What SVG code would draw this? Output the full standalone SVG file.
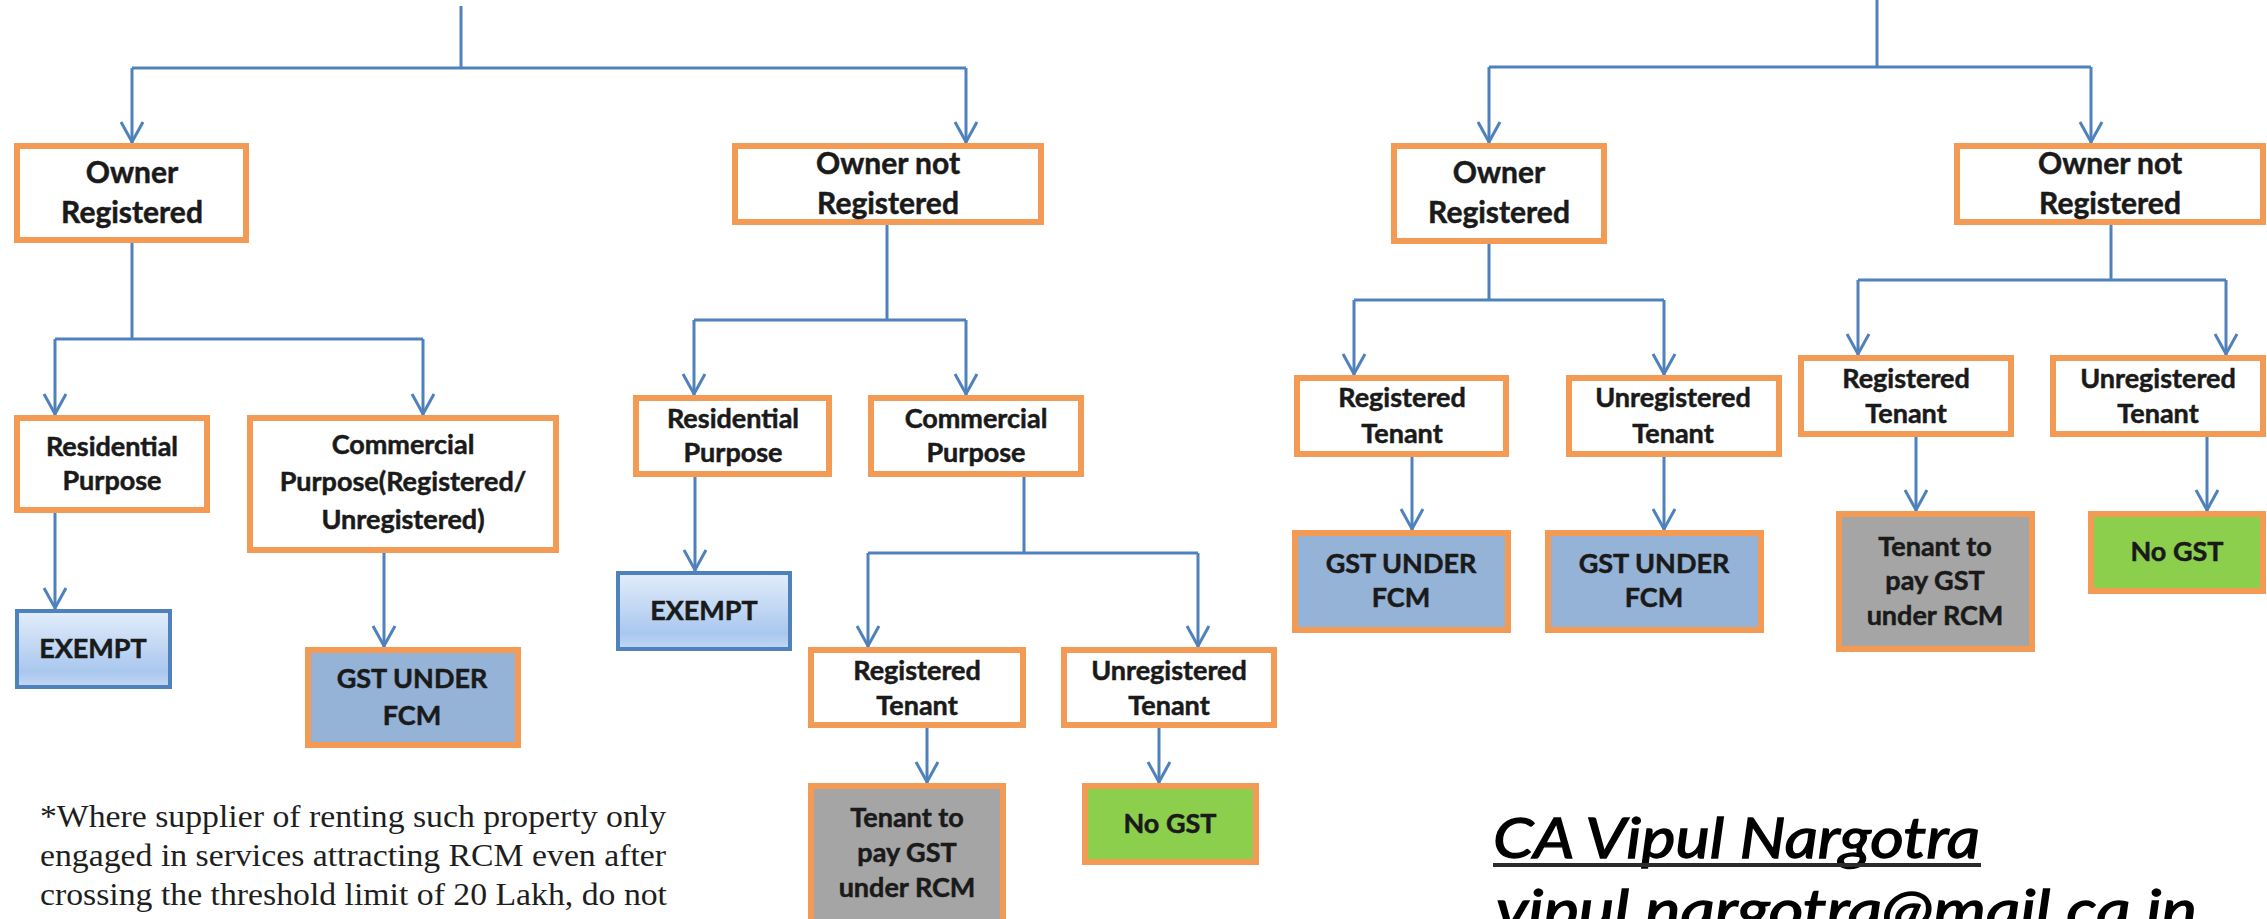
<svg xmlns="http://www.w3.org/2000/svg" width="2267" height="919" viewBox="0 0 2267 919">
<style>
.box{fill:#ffffff;stroke:#F39A55;stroke-width:6}
.fcm{fill:#95B3D7;stroke:#F39A55;stroke-width:6}
.rcm{fill:#A5A5A5;stroke:#F39A55;stroke-width:6}
.nogst{fill:#8CCF4D;stroke:#F39A55;stroke-width:6}
.ex{fill:url(#exg);stroke:#4F81BD;stroke-width:4}
.t{font-family:Lato,"Liberation Sans",sans-serif;font-weight:bold;fill:#1a1a1a;stroke:#1a1a1a;stroke-width:0.5;text-anchor:middle}
.big{font-size:30px}
.sm{font-size:27px}
.c{fill:none;stroke:#4F81BD;stroke-width:3}
.a{fill:none;stroke:#4F81BD;stroke-width:3;marker-end:url(#arr)}
.note{font-family:"Liberation Serif",serif;font-size:32px;fill:#1e1e1e}
.sig{font-family:Lato,"Liberation Sans",sans-serif;font-style:italic;font-size:57px;fill:#000;stroke:#000;stroke-width:1.3}
</style>
<defs>
<linearGradient id="exg" x1="0" y1="0" x2="0" y2="1">
<stop offset="0" stop-color="#e3edfb"/>
<stop offset="0.8" stop-color="#a9c7ee"/>
<stop offset="1" stop-color="#c3d8f3"/>
</linearGradient>
<marker id="arr" markerUnits="userSpaceOnUse" markerWidth="30" markerHeight="30" viewBox="-25 -15 30 30" refX="0" refY="0" orient="auto">
<path d="M-21,-11 L-1,0 L-21,11" fill="none" stroke="#4F81BD" stroke-width="3"/>
</marker>
</defs>
<rect width="2267" height="919" fill="#ffffff"/>

<g id="connectors">
<path class="c" d="M461,6 V68 M132,68 H966"/>
<path class="a" d="M132,68 V143"/>
<path class="a" d="M966,68 V143"/>
<path class="c" d="M132,243 V339 M55,339 H423"/>
<path class="a" d="M55,339 V415"/>
<path class="a" d="M423,339 V415"/>
<path class="a" d="M55,513 V609"/>
<path class="a" d="M384,553 V647"/>
<path class="c" d="M887,225 V320 M694,320 H966"/>
<path class="a" d="M694,320 V395"/>
<path class="a" d="M966,320 V395"/>
<path class="a" d="M695,475 V571"/>
<path class="c" d="M1024,475 V553 M868,553 H1198"/>
<path class="a" d="M868,553 V647"/>
<path class="a" d="M1198,553 V647"/>
<path class="a" d="M927,728 V783"/>
<path class="a" d="M1159,728 V783"/>
<path class="c" d="M1877,0 V67 M1489,67 H2091"/>
<path class="a" d="M1489,67 V143"/>
<path class="a" d="M2091,67 V143"/>
<path class="c" d="M1489,244 V300 M1354,300 H1664"/>
<path class="a" d="M1354,300 V375"/>
<path class="a" d="M1664,300 V375"/>
<path class="a" d="M1412,457 V530"/>
<path class="a" d="M1664,457 V530"/>
<path class="c" d="M2111,225 V280 M1858,280 H2226"/>
<path class="a" d="M1858,280 V355"/>
<path class="a" d="M2226,280 V355"/>
<path class="a" d="M1916,437 V511"/>
<path class="a" d="M2207,437 V511"/>
</g>

<g id="n1"><rect class="box" x="17" y="146" width="229" height="94"/>
<text class="t big" x="132" y="183">Owner</text><text class="t big" x="132" y="223">Registered</text></g>
<g id="n2"><rect class="box" x="735" y="146" width="306" height="76"/>
<text class="t big" x="888" y="174">Owner not</text><text class="t big" x="888" y="214">Registered</text></g>
<g id="n3"><rect class="box" x="17" y="418" width="190" height="92"/>
<text class="t sm" x="112" y="456">Residential</text><text class="t sm" x="112" y="490">Purpose</text></g>
<g id="n4"><rect class="box" x="250" y="418" width="306" height="132"/>
<text class="t sm" x="403" y="454">Commercial</text><text class="t sm" x="403" y="491">Purpose(Registered/</text><text class="t sm" x="403" y="529">Unregistered)</text></g>
<g id="n5"><rect class="ex" x="17" y="611" width="153" height="76"/>
<text class="t sm" x="93" y="658">EXEMPT</text></g>
<g id="n6"><rect class="fcm" x="308" y="650" width="210" height="95"/>
<text class="t sm" x="412" y="688">GST UNDER</text><text class="t sm" x="412" y="725">FCM</text></g>
<g id="n7"><rect class="box" x="636" y="398" width="193" height="76"/>
<text class="t sm" x="733" y="428">Residential</text><text class="t sm" x="733" y="462">Purpose</text></g>
<g id="n8"><rect class="box" x="871" y="398" width="210" height="76"/>
<text class="t sm" x="976" y="428">Commercial</text><text class="t sm" x="976" y="462">Purpose</text></g>
<g id="n9"><rect class="ex" x="618" y="573" width="172" height="76"/>
<text class="t sm" x="704" y="620">EXEMPT</text></g>
<g id="n10"><rect class="box" x="811" y="650" width="212" height="75"/>
<text class="t sm" x="917" y="680">Registered</text><text class="t sm" x="917" y="715">Tenant</text></g>
<g id="n11"><rect class="box" x="1064" y="650" width="210" height="75"/>
<text class="t sm" x="1169" y="680">Unregistered</text><text class="t sm" x="1169" y="715">Tenant</text></g>
<g id="n12"><rect class="rcm" x="811" y="786" width="192" height="140"/>
<text class="t sm" x="907" y="827">Tenant to</text><text class="t sm" x="907" y="862">pay GST</text><text class="t sm" x="907" y="897">under RCM</text></g>
<g id="n13"><rect class="nogst" x="1085" y="786" width="171" height="76"/>
<text class="t sm" x="1170" y="833">No GST</text></g>

<g id="n14"><rect class="box" x="1394" y="146" width="210" height="95"/>
<text class="t big" x="1499" y="183">Owner</text><text class="t big" x="1499" y="223">Registered</text></g>
<g id="n15"><rect class="box" x="1957" y="146" width="306" height="76"/>
<text class="t big" x="2110" y="174">Owner not</text><text class="t big" x="2110" y="214">Registered</text></g>
<g id="n16"><rect class="box" x="1297" y="378" width="209" height="76"/>
<text class="t sm" x="1402" y="407">Registered</text><text class="t sm" x="1402" y="443">Tenant</text></g>
<g id="n17"><rect class="box" x="1569" y="378" width="210" height="76"/>
<text class="t sm" x="1673" y="407">Unregistered</text><text class="t sm" x="1673" y="443">Tenant</text></g>
<g id="n18"><rect class="box" x="1801" y="358" width="210" height="76"/>
<text class="t sm" x="1906" y="388">Registered</text><text class="t sm" x="1906" y="423">Tenant</text></g>
<g id="n19"><rect class="box" x="2053" y="358" width="210" height="76"/>
<text class="t sm" x="2158" y="388">Unregistered</text><text class="t sm" x="2158" y="423">Tenant</text></g>
<g id="n20"><rect class="fcm" x="1295" y="533" width="213" height="97"/>
<text class="t sm" x="1401" y="573">GST UNDER</text><text class="t sm" x="1401" y="607">FCM</text></g>
<g id="n21"><rect class="fcm" x="1548" y="533" width="213" height="97"/>
<text class="t sm" x="1654" y="573">GST UNDER</text><text class="t sm" x="1654" y="607">FCM</text></g>
<g id="n22"><rect class="rcm" x="1839" y="514" width="193" height="135"/>
<text class="t sm" x="1935" y="556">Tenant to</text><text class="t sm" x="1935" y="590">pay GST</text><text class="t sm" x="1935" y="625">under RCM</text></g>
<g id="n23"><rect class="nogst" x="2091" y="514" width="172" height="77"/>
<text class="t sm" x="2177" y="561">No GST</text></g>

<g id="footnote">
<text class="note" x="40" y="827" textLength="626" lengthAdjust="spacingAndGlyphs">*Where supplier of renting such property only</text>
<text class="note" x="40" y="866" textLength="626" lengthAdjust="spacingAndGlyphs">engaged in services attracting RCM even after</text>
<text class="note" x="40" y="905" textLength="627" lengthAdjust="spacingAndGlyphs">crossing the threshold limit of 20 Lakh, do not</text>
</g>
<g id="signature">
<text class="sig" x="1493" y="858" textLength="487" lengthAdjust="spacingAndGlyphs">CA Vipul Nargotra</text>
<rect x="1493" y="863" width="488" height="4" fill="#2b2b2b"/>
<text class="sig" x="1496" y="930" textLength="701" lengthAdjust="spacingAndGlyphs">vipul.nargotra@mail.ca.in</text>
</g>
</svg>
